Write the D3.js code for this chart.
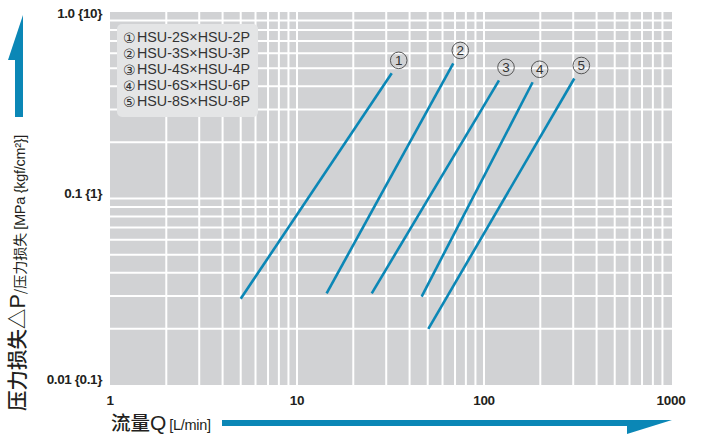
<!DOCTYPE html>
<html>
<head>
<meta charset="utf-8">
<script src="https://cdn.jsdelivr.net/npm/d3@7"></script>
<style>
body{margin:0;background:#fff}
svg{display:block}
</style>
</head>
<body>
<svg width="703" height="435"></svg>
<script>
// data
const seriesNames=["HSU-2S×HSU-2P","HSU-3S×HSU-3P","HSU-4S×HSU-4P","HSU-6S×HSU-6P","HSU-8S×HSU-8P"];
const seriesMarks=["①","②","③","④","⑤"];
const seriesNums=["1","2","3","4","5"];
const flowStart=[5,14.4,25.1,46.4,50.4];
const flowEnd=[32.1,68.5,120.3,182,304];
const dropStart=[0.029,0.031,0.031,0.0298,0.020];
const dropEnd=[0.469,0.53,0.43,0.42,0.44];
const xTicks=[1,10,100,1000];
const xTickLabels=["1","10","100","1000"];
const yTicks=[1,0.1,0.01];
const yTickLabels=["1.0 {10}","0.1 {1}","0.01 {0.1}"];

const blue="#0b87b6";
const svg=d3.select("svg");
const x=d3.scaleLog().domain([1,1000]).range([110,671]);
const y=d3.scaleLog().domain([0.01,1]).range([385,12]);

// plot background
svg.append("rect").attr("x",110).attr("y",12).attr("width",562).attr("height",373).attr("fill","#d1d2d4");

const grid=svg.append("g").attr("stroke","#fff").attr("stroke-width",2);
grid.selectAll(".vx").data(x.ticks().filter(v=>v>1&&v<1000)).enter().append("line")
  .attr("x1",d=>x(d)).attr("x2",d=>x(d)).attr("y1",12).attr("y2",385);
grid.selectAll(".hy").data(y.ticks().filter(v=>v>0.01&&v<1)).enter().append("line")
  .attr("x1",110).attr("x2",672).attr("y1",d=>y(d)).attr("y2",d=>y(d));

// legend box
svg.append("rect").attr("x",117).attr("y",24).attr("width",141).attr("height",93).attr("rx",5).attr("fill","#e4e5e6");
const leg=svg.append("g").attr("font-family","'Liberation Sans',Arial,sans-serif").attr("font-size",14).attr("fill","#333");
seriesNames.forEach((n,i)=>{
  const ly=42+i*16;
  leg.append("text").attr("x",123).attr("y",ly+0.5).attr("font-family","'DejaVu Sans','Noto Sans CJK JP',sans-serif").attr("font-size",14).text(seriesMarks[i]);
  leg.append("text").attr("x",137).attr("y",ly).attr("textLength",113).attr("lengthAdjust","spacingAndGlyphs").text(n);
});

// series lines
const line=d3.line().x(d=>x(d[0])).y(d=>y(d[1]));
seriesNames.forEach((n,i)=>{
  svg.append("path").datum([[flowStart[i],dropStart[i]],[flowEnd[i],dropEnd[i]]])
    .attr("d",line).attr("fill","none").attr("stroke",blue).attr("stroke-width",2.6);
  const cx=x(flowEnd[i])+7, cy=y(dropEnd[i])-13;
  svg.append("circle").attr("cx",cx).attr("cy",cy).attr("r",8.3).attr("fill","none").attr("stroke","#555").attr("stroke-width",1);
  svg.append("text").attr("x",cx).attr("y",cy+4.8).attr("text-anchor","middle")
    .attr("font-family","'Liberation Sans',Arial,sans-serif").attr("font-size",13.5).attr("fill","#333").text(seriesNums[i]);
});

// tick labels
const tk=svg.append("g").attr("font-family","'Liberation Sans',Arial,sans-serif").attr("font-weight","bold").attr("font-size",13.5).attr("fill","#231f20");
tk.selectAll(".xt").data(xTicks).enter().append("text")
  .attr("x",d=>x(d)).attr("y",405).attr("text-anchor","middle").attr("letter-spacing",-0.3).text((d,i)=>xTickLabels[i]);
tk.selectAll(".yt").data(yTicks).enter().append("text")
  .attr("x",102).attr("y",d=>Math.max(18,y(d)-1)).attr("text-anchor","end").attr("letter-spacing",-0.4).text((d,i)=>yTickLabels[i]);

// axis titles
const xt=svg.append("text").attr("x",111).attr("y",429.5).attr("fill","#231f20");
xt.append("tspan").attr("font-family","'Noto Sans CJK SC',sans-serif").attr("font-size",19.5).attr("font-weight",500).text("流量");
xt.append("tspan").attr("font-family","'Liberation Sans',Arial,sans-serif").attr("font-size",21).text("Q");
xt.append("tspan").attr("dx",3).attr("font-family","'Liberation Sans',Arial,sans-serif").attr("font-size",14.5).attr("letter-spacing",-0.3).text("[L/min]");

const yt=svg.append("text").attr("transform","translate(25,411) rotate(-90)").attr("fill","#231f20");
yt.append("tspan").attr("font-family","'Noto Sans CJK SC',sans-serif").attr("font-size",20.5).attr("font-weight",500).text("压力损失△");
yt.append("tspan").attr("font-family","'Liberation Sans',Arial,sans-serif").attr("font-size",21.5).text("P");
yt.append("tspan").attr("font-family","'Noto Sans CJK SC',sans-serif").attr("font-size",14).text("/压力损失");
yt.append("tspan").attr("dx",3).attr("font-family","'Liberation Sans',Arial,sans-serif").attr("font-size",14.5).attr("letter-spacing",-0.3).text("[MPa {kgf/cm²}]");

// arrows
svg.append("path").attr("fill",blue).attr("d","M15,117 L15,60 L8,60 L23,15 L23,117 Z");
svg.append("path").attr("fill",blue).attr("d","M222,420 L672,420 L627,434 L627,426 L222,426 Z");
</script>
</body>
</html>
